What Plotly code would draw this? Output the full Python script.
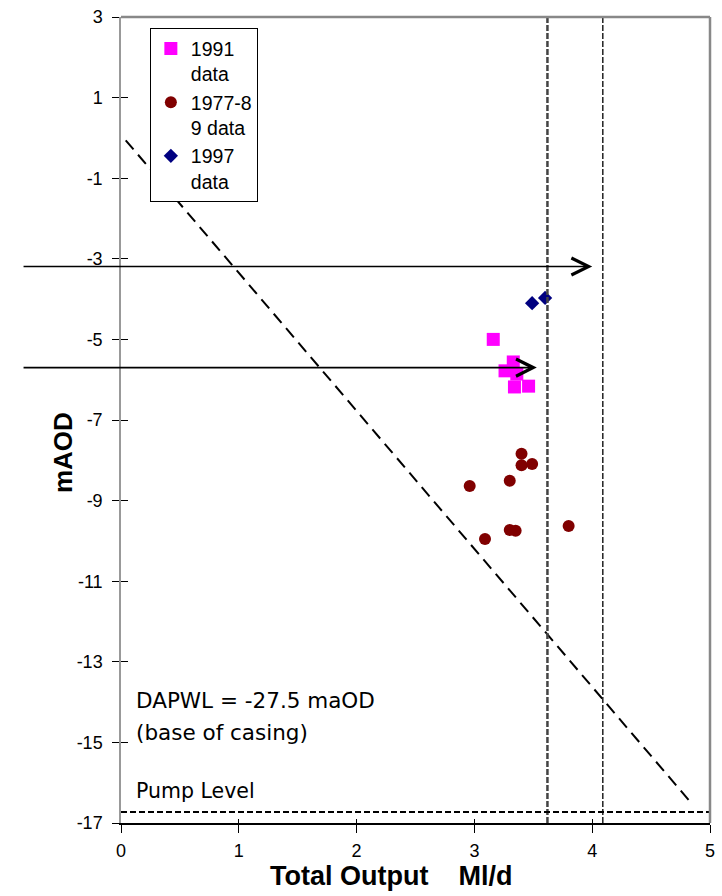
import plotly.graph_objects as go

# Observed well output against water level
out_1991 = [3.16, 3.33, 3.26, 3.36, 3.34, 3.46]
lvl_1991 = [-5.00, -5.56, -5.78, -5.86, -6.18, -6.16]

out_1977 = [3.40, 3.40, 3.49, 2.96, 3.30, 3.30, 3.35, 3.09, 3.80]
lvl_1977 = [-7.84, -8.12, -8.09, -8.64, -8.51, -9.73, -9.75, -9.95, -9.63]

out_1997 = [3.49, 3.60]
lvl_1997 = [-4.10, -3.97]

# Reference lines
trend_x = [0.04, 4.84]
trend_y = [-0.06, -16.50]
yield_limits = [3.62, 4.09]
pump_level = -16.73

# Arrows: (level, head output)
arrow_levels = [-3.19, -5.70]
arrow_heads = [4.00, 3.53]
arrow_tail = -0.84

x_ticks = [0, 1, 2, 3, 4, 5]
x_tick_labels = ["0", "1", "2", "3", "4", "5"]
y_ticks = [3, 1, -1, -3, -5, -7, -9, -11, -13, -15, -17]
y_tick_labels = ["3", "1", "-1", "-3", "-5", "-7", "-9", "-11", "-13", "-15", "-17"]

TICK_FONT = dict(family="Liberation Sans, Arial, sans-serif", size=18, color="black")

fig = go.Figure()

fig.add_trace(go.Scatter(
    x=out_1991, y=lvl_1991, mode="markers", name="1991<br>data",
    marker=dict(symbol="square", size=13, color="#FF00FF"),
))
fig.add_trace(go.Scatter(
    x=out_1977, y=lvl_1977, mode="markers", name="1977-8<br>9 data",
    marker=dict(symbol="circle", size=12, color="#800000"),
))
fig.add_trace(go.Scatter(
    x=out_1997, y=lvl_1997, mode="markers", name="1997<br>data",
    marker=dict(symbol="diamond", size=11, color="#000080"),
))

# Overlay axes carry the inward half of the crossing tick marks
fig.add_trace(go.Scatter(x=[None], y=[None], xaxis="x2", yaxis="y2",
                         showlegend=False, hoverinfo="skip"))

shapes = []
shapes.append(dict(type="line", xref="x", yref="y",
                   x0=trend_x[0], y0=trend_y[0], x1=trend_x[1], y1=trend_y[1],
                   line=dict(color="black", width=2, dash="12px,7px")))
shapes.append(dict(type="line", xref="x", yref="y",
                   x0=yield_limits[0], x1=yield_limits[0], y0=-17, y1=3,
                   line=dict(color="#444444", width=2.5, dash="6px,2px")))
shapes.append(dict(type="line", xref="x", yref="y",
                   x0=yield_limits[1], x1=yield_limits[1], y0=-17, y1=3,
                   line=dict(color="#222222", width=1.5, dash="6px,2px")))
shapes.append(dict(type="line", xref="x", yref="y",
                   x0=0, x1=5, y0=pump_level, y1=pump_level,
                   line=dict(color="black", width=2, dash="6px,3px")))
# Plot-area frame on the top and right
shapes.append(dict(type="line", xref="paper", yref="paper", x0=0, x1=1, y0=1, y1=1,
                   line=dict(color="#888888", width=2.5)))
shapes.append(dict(type="line", xref="paper", yref="paper", x0=1, x1=1, y0=0, y1=1,
                   line=dict(color="#888888", width=2.5)))

annotations = []
for lvl, head in zip(arrow_levels, arrow_heads):
    annotations.append(dict(
        x=head, y=lvl, xref="x", yref="y",
        ax=arrow_tail, ay=lvl, axref="x", ayref="y",
        text="", showarrow=True, arrowhead=5, arrowsize=2.1, arrowwidth=1.6,
        arrowcolor="black", standoff=0,
    ))

note_font = dict(family="DejaVu Sans, sans-serif", size=21.5, color="black")
annotations += [
    dict(text="DAPWL = -27.5 maOD", xref="paper", yref="paper", x=0.022, y=0.1525,
         xanchor="left", yanchor="middle", showarrow=False, font=note_font),
    dict(text="(base of casing)", xref="paper", yref="paper", x=0.022, y=0.1129,
         xanchor="left", yanchor="middle", showarrow=False, font=note_font),
    dict(text="Pump Level", xref="paper", yref="paper", x=0.022, y=0.0397,
         xanchor="left", yanchor="middle", showarrow=False,
         font=dict(family="DejaVu Sans, sans-serif", size=20.5, color="black")),
    dict(text="mAOD", xref="paper", yref="paper", x=-0.0988, y=0.46,
         xanchor="center", yanchor="middle", textangle=-90, showarrow=False,
         font=dict(family="Liberation Sans, Arial, sans-serif", size=26,
                   color="black", weight="bold")),
    dict(text="Total Output\u00a0\u00a0\u00a0\u00a0Ml/d", xref="paper", yref="paper",
         x=0.458, y=-0.0655, xanchor="center", yanchor="middle", showarrow=False,
         font=dict(family="Liberation Sans, Arial, sans-serif",
                   size=27, color="black", weight="bold")),
]

fig.update_layout(
    width=722, height=896,
    margin=dict(l=121, r=7, t=17, b=73),
    paper_bgcolor="white", plot_bgcolor="white",
    showlegend=True,
    legend=dict(x=0.049, y=0.986, xanchor="left", yanchor="top",
                bgcolor="white", bordercolor="black", borderwidth=1,
                font=dict(family="Liberation Sans, Arial, sans-serif", size=19.5, color="black"),
                valign="top", tracegroupgap=0, itemwidth=30),
    xaxis=dict(range=[0, 5], tickvals=x_ticks, ticktext=x_tick_labels,
               ticks="outside", ticklen=8, tickwidth=1.3, tickcolor="black",
               showline=True, linecolor="black", linewidth=1.5,
               showgrid=False, zeroline=False, tickfont=TICK_FONT,
               ticklabelstandoff=3, fixedrange=True),
    yaxis=dict(range=[-17, 3], tickvals=y_ticks, ticktext=y_tick_labels,
               ticks="outside", ticklen=7, tickwidth=1.3, tickcolor="black",
               showline=True, linecolor="#999999", linewidth=1.5,
               showgrid=False, zeroline=False, tickfont=TICK_FONT,
               ticklabelstandoff=6, fixedrange=True),
    xaxis2=dict(range=[0, 5], overlaying="x", anchor="y2", side="bottom",
                tickvals=x_ticks, ticks="inside", ticklen=4, tickwidth=1.3,
                tickcolor="black", showticklabels=False, showline=False,
                showgrid=False, zeroline=False),
    yaxis2=dict(range=[-17, 3], overlaying="y", anchor="x2", side="left",
                tickvals=y_ticks, ticks="inside", ticklen=7, tickwidth=1.3,
                tickcolor="black", showticklabels=False, showline=False,
                showgrid=False, zeroline=False),
    shapes=shapes,
    annotations=annotations,
)

fig.write_html("out.html")
